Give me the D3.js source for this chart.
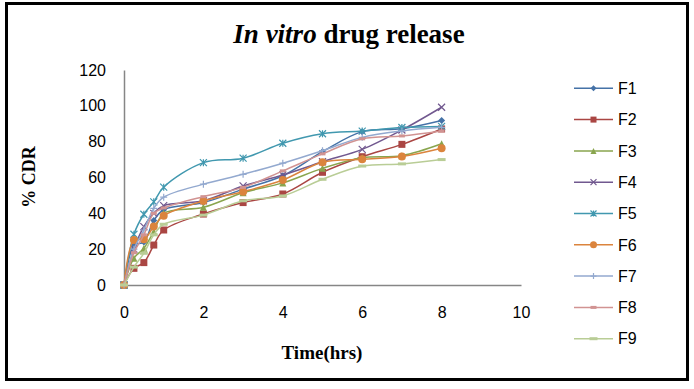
<!DOCTYPE html>
<html>
<head>
<meta charset="utf-8">
<script src="https://cdn.jsdelivr.net/npm/d3@7"></script>
<style>
  body { margin: 0; background: #fff; }
</style>
</head>
<body>
<script>
var w = 694;
var h = 389;

// data
var times = [0, 0.25, 0.5, 0.75, 1, 2, 3, 4, 5, 6, 7, 8];
var seriesNames = ["F1", "F2", "F3", "F4", "F5", "F6", "F7", "F8", "F9"];
var f1 = [0, 22, 24, 36, 42, 46, 53.5, 61, 74.4, 85.6, 87.2, 91.8];
var f2 = [0, 9.3, 12.5, 22.3, 30.7, 39.6, 46, 50.8, 62.9, 71.6, 78.5, 87.1];
var f3 = [0, 15, 20.5, 29.8, 40, 43.4, 51.5, 57, 65.1, 71, 72.2, 78.8];
var f4 = [0, 20, 32.6, 40, 44.3, 47, 55.3, 61.4, 68.8, 75.7, 86.5, 99.2];
var f5 = [0, 28.3, 39.5, 46.4, 54.6, 68.3, 70.8, 79.1, 84.4, 85.9, 87.9, 88.5];
var f6 = [0, 25.1, 25.5, 32.6, 38.7, 46.9, 52.1, 58.6, 68.5, 70.2, 71.7, 76.3];
var f7 = [0, 20, 30.7, 42.8, 49, 56.3, 61.8, 68, 75, 82.4, 86, 88];
var f8 = [0, 18, 28, 40, 43, 49.3, 54.5, 63.7, 73.2, 81.6, 83.2, 86];
var f9 = [0, 10, 17.7, 28, 33.9, 39, 47, 49.7, 59, 66.4, 67.6, 70];
var xTicks = [0, 2, 4, 6, 8, 10];
var yTicks = [0, 20, 40, 60, 80, 100, 120];

var values = [f1, f2, f3, f4, f5, f6, f7, f8, f9];
var colors = ["#4572A7", "#AA4643", "#89A54E", "#71588F", "#4198AF", "#DB843D", "#93A9CF", "#D19392", "#B9CD96"];
var shapes = ["diamond", "square", "triangle", "x", "star", "circle", "plus", "dash", "longdash"];

var series = seriesNames.map(function(name, i) {
  return {
    name: name,
    color: colors[i],
    shape: shapes[i],
    points: times.map(function(t, j) { return { t: t, v: values[i][j] }; })
  };
});

var xScale = d3.scaleLinear().domain([0, 10]).range([124, 521]);
var yScale = d3.scaleLinear().domain([0, 120]).range([285, 70]);

var svg = d3.select("body")
  .append("svg")
  .attr("width", w)
  .attr("height", h);

// outer frame
svg.append("rect")
  .attr("x", 6.5)
  .attr("y", 3.5)
  .attr("width", 681)
  .attr("height", 376)
  .attr("fill", "white")
  .attr("stroke", "black")
  .attr("stroke-width", 3);

// title
var title = svg.append("text")
  .attr("x", 349)
  .attr("y", 43)
  .attr("text-anchor", "middle")
  .attr("font-family", "Liberation Serif, Times New Roman, serif")
  .attr("font-size", 27)
  .attr("font-weight", "bold");
title.append("tspan").attr("font-style", "italic").text("In vitro");
title.append("tspan").text(" drug release");

// axes
var yAxis = d3.axisLeft(yScale).tickValues(yTicks).tickSize(0).tickPadding(18);
var xAxis = d3.axisBottom(xScale).tickValues(xTicks).tickSize(0).tickPadding(22);

var gy = svg.append("g").attr("transform", "translate(124,0)").call(yAxis);
var gx = svg.append("g").attr("transform", "translate(0,285)").call(xAxis);

[gx, gy].forEach(function(g) {
  g.select(".domain").attr("stroke", "#868686").attr("stroke-width", 1.5);
  g.selectAll("text")
    .attr("font-family", "Liberation Sans, Arial, sans-serif")
    .attr("font-size", 16)
    .attr("fill", "black");
});

// axis titles
svg.append("text")
  .attr("transform", "translate(35,177) rotate(-90)")
  .attr("text-anchor", "middle")
  .attr("font-family", "Liberation Serif, Times New Roman, serif")
  .attr("font-size", 18)
  .attr("font-weight", "bold")
  .text("% CDR");

svg.append("text")
  .attr("x", 322)
  .attr("y", 359)
  .attr("text-anchor", "middle")
  .attr("font-family", "Liberation Serif, Times New Roman, serif")
  .attr("font-size", 19)
  .attr("font-weight", "bold")
  .text("Time(hrs)");

// marker drawing
function drawMarker(g, shape, color, size) {
  var s = size || 7;
  var r = s / 2;
  if (shape === "diamond") {
    g.append("path").attr("d", "M0," + (-r) + "L" + r + ",0L0," + r + "L" + (-r) + ",0Z").attr("fill", color);
  } else if (shape === "square") {
    g.append("rect").attr("x", -r).attr("y", -r).attr("width", s).attr("height", s).attr("fill", color);
  } else if (shape === "triangle") {
    g.append("path").attr("d", "M0," + (-r) + "L" + r + "," + r + "L" + (-r) + "," + r + "Z").attr("fill", color);
  } else if (shape === "x") {
    g.append("path").attr("d", "M" + (-r) + "," + (-r) + "L" + r + "," + r + "M" + (-r) + "," + r + "L" + r + "," + (-r))
      .attr("stroke", color).attr("stroke-width", 1.2);
  } else if (shape === "star") {
    g.append("path").attr("d", "M" + (-r) + "," + (-r) + "L" + r + "," + r + "M" + (-r) + "," + r + "L" + r + "," + (-r) + "M0," + (-r) + "L0," + r)
      .attr("stroke", color).attr("stroke-width", 1.2);
  } else if (shape === "circle") {
    g.append("circle").attr("r", r + 0.5).attr("fill", color);
  } else if (shape === "plus") {
    g.append("path").attr("d", "M" + (-r) + ",0L" + r + ",0M0," + (-r) + "L0," + r)
      .attr("stroke", color).attr("stroke-width", 1.2);
  } else if (shape === "dash") {
    g.append("rect").attr("x", -3).attr("y", -1.5).attr("width", 6).attr("height", 3).attr("fill", color);
  } else if (shape === "longdash") {
    g.append("rect").attr("x", -4).attr("y", -1.5).attr("width", 8).attr("height", 3).attr("fill", color);
  }
}

var line = d3.line()
  .x(function(d) { return xScale(d.t); })
  .y(function(d) { return yScale(d.v); })
  .curve(d3.curveCatmullRom.alpha(0.5));

var sg = svg.selectAll(".series")
  .data(series)
  .enter()
  .append("g")
  .attr("class", "series");

sg.append("path")
  .attr("d", function(d) { return line(d.points); })
  .attr("fill", "none")
  .attr("stroke", function(d) { return d.color; })
  .attr("stroke-width", 1.5);

sg.each(function(d) {
  var g = d3.select(this);
  d.points.forEach(function(p) {
    var m = g.append("g").attr("transform", "translate(" + xScale(p.t) + "," + yScale(p.v) + ")");
    drawMarker(m, d.shape, d.color, 7);
  });
});

// legend
var legend = svg.selectAll(".legend")
  .data(series)
  .enter()
  .append("g")
  .attr("class", "legend")
  .attr("transform", function(d, i) { return "translate(574," + (88.3 + i * 31.3) + ")"; });

legend.append("line")
  .attr("x1", 0)
  .attr("x2", 39)
  .attr("stroke", function(d) { return d.color; })
  .attr("stroke-width", 1.5);

legend.each(function(d) {
  var m = d3.select(this).append("g").attr("transform", "translate(19.5,0)");
  drawMarker(m, d.shape, d.color, 6);
});

legend.append("text")
  .attr("x", 44)
  .attr("y", 0)
  .attr("dy", "0.36em")
  .attr("font-family", "Liberation Sans, Arial, sans-serif")
  .attr("font-size", 16)
  .attr("fill", "black")
  .text(function(d) { return d.name; });
</script>
</body>
</html>
